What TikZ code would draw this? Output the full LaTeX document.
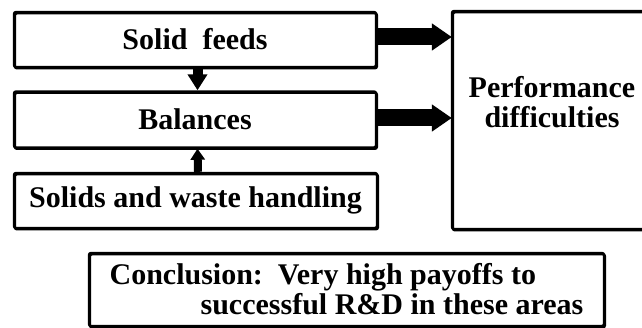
\documentclass[tikz,border=0pt]{standalone}
\usepackage{fontspec}
\setmainfont{Liberation Serif}
\usetikzlibrary{arrows.meta,calc}
\begin{document}
\begin{tikzpicture}[x=1pt,y=-1pt,
  box/.style={draw, line width=2.4pt, rounded corners=2pt, inner sep=0pt,
    font=\fontsize{30}{30}\selectfont\bfseries,
    preaction={draw, line width=2.4pt, transform canvas={shift={(0.9pt,-1.3pt)}}}},
  txt/.style={inner sep=0pt, font=\fontsize{30}{30}\selectfont\bfseries, align=center},
  bigarrow/.style={line width=17pt, -{Triangle[length=20pt,width=26pt]}, shorten >=-1pt},
  downarrow/.style={line width=10pt, -{Triangle[length=16pt,width=19pt]}},
  uparrow/.style={line width=8pt, -{Triangle[length=11pt,width=14pt]}}
]
\useasboundingbox (0,0) rectangle (642,328);
\clip (0,0) rectangle (642,328);
\fill[white] (0,0) rectangle (642,328);
\node[box, minimum width=362pt, minimum height=55pt] (sf) at (195,39.5) {Solid\ \ feeds};
\node[box, minimum width=362pt, minimum height=56pt] (bal) at (195,119.5) {Balances};
\node[box, minimum width=363pt, minimum height=55pt] (swh) at (195.5,200.5) {Solids and waste handling};
\node[box, minimum width=200pt, minimum height=218pt] (perf) at (552,120) {};
\node[txt] (perft) at (552,102) {Performance\\difficulties};
\node[box, minimum width=515pt, minimum height=73pt, align=left] (conc) at (346.5,289.5)
  {Conclusion:\ \ Very high payoffs to\\\hspace*{91pt}successful R\&D in these areas};
\draw[bigarrow] ([yshift=2.5pt]sf.east) -- ([yshift=2.5pt]sf.east -| perf.west);
\draw[bigarrow] ([yshift=1.5pt]bal.east) -- ([yshift=1.5pt]bal.east -| perf.west);
\draw[downarrow] ([xshift=2.5pt]sf.south) -- ([xshift=2.5pt]bal.north);
\draw[uparrow] ([xshift=2.5pt]swh.north) -- ([xshift=2.5pt]bal.south);
\end{tikzpicture}
\end{document}
